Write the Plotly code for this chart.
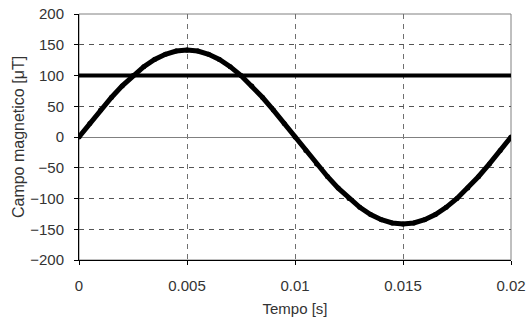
import plotly.graph_objects as go

# time samples [s] and measured field [uT]
tempo = [0.0000, 0.0005, 0.0010, 0.0015, 0.0020, 0.0025, 0.0030, 0.0035, 0.0040, 0.0045,
         0.0050, 0.0055, 0.0060, 0.0065, 0.0070, 0.0075, 0.0080, 0.0085, 0.0090, 0.0095,
         0.0100, 0.0105, 0.0110, 0.0115, 0.0120, 0.0125, 0.0130, 0.0135, 0.0140, 0.0145,
         0.0150, 0.0155, 0.0160, 0.0165, 0.0170, 0.0175, 0.0180, 0.0185, 0.0190, 0.0195,
         0.0200]
campo = [0.0, 22.1, 43.7, 64.2, 83.1, 100.0, 114.4, 126.0, 134.5, 139.7,
         141.4, 139.7, 134.5, 126.0, 114.4, 100.0, 83.1, 64.2, 43.7, 22.1,
         0.0, -22.1, -43.7, -64.2, -83.1, -100.0, -114.4, -126.0, -134.5, -139.7,
         -141.4, -139.7, -134.5, -126.0, -114.4, -100.0, -83.1, -64.2, -43.7, -22.1,
         0.0]
limite_x = [0.0, 0.02]
limite_y = [100, 100]

x_ticks = [0, 0.005, 0.01, 0.015, 0.02]
x_ticktext = ["0", "0.005", "0.01", "0.015", "0.02"]
y_ticks = [-200, -150, -100, -50, 0, 50, 100, 150, 200]

font_family = "Liberation Sans, Arial, sans-serif"
tick_color = "#333333"

fig = go.Figure()
fig.add_trace(go.Scatter(x=limite_x, y=limite_y, mode="lines",
                         line=dict(color="black", width=4), showlegend=False))
fig.add_trace(go.Scatter(x=tempo, y=campo, mode="lines+markers",
                         line=dict(color="black", width=5),
                         marker=dict(color="black", size=5),
                         showlegend=False))

fig.add_shape(type="rect", xref="paper", yref="paper", x0=0, y0=0, x1=1, y1=1,
              line=dict(color="#808080", width=1), layer="below")

fig.update_layout(
    width=526, height=322,
    margin=dict(l=79, r=15, t=14, b=62),
    paper_bgcolor="white", plot_bgcolor="white",
    font=dict(family=font_family, size=15, color=tick_color),
    xaxis=dict(range=[0, 0.02], tickvals=x_ticks, ticktext=x_ticktext,
               automargin=False,
               showgrid=True, gridcolor="#707070", griddash="5px,5px", gridwidth=1,
               showline=True, linecolor="black", linewidth=1,
               ticks="outside", ticklen=4, tickcolor="black",
               ticklabelstandoff=8,
               zeroline=False,
               title=dict(text="Tempo [s]", font=dict(size=15, color=tick_color), standoff=10),
               tickfont=dict(size=15, color=tick_color)),
    yaxis=dict(range=[-200, 200], tickvals=y_ticks,
               automargin=False,
               showgrid=True, gridcolor="#555555", griddash="5px,5px", gridwidth=1,
               showline=True, linecolor="black", linewidth=1,
               ticks="outside", ticklen=4, tickcolor="black",
               ticklabelstandoff=7,
               zeroline=True, zerolinecolor="#808080", zerolinewidth=1,
               title=dict(text="Campo magnetico [μT]", font=dict(size=16, color=tick_color), standoff=1),
               tickfont=dict(size=15, color=tick_color)),
)

fig.write_html("out.html")
